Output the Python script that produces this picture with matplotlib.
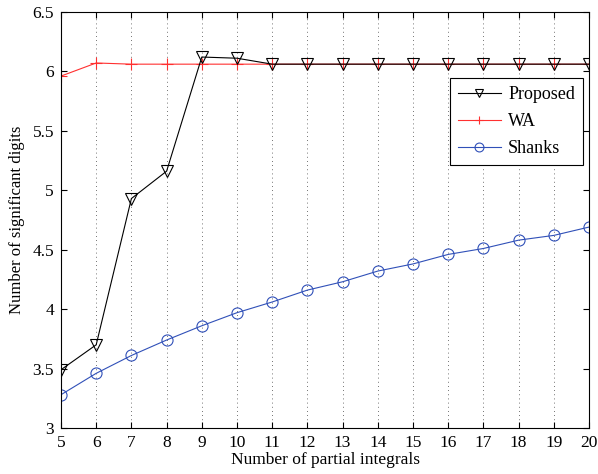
import matplotlib
matplotlib.use("Agg")
import matplotlib.pyplot as plt

plt.rcParams['font.family'] = ['Liberation Serif', 'DejaVu Serif']
plt.rcParams['mathtext.fontset'] = 'stix'

n_partial = list(range(5, 21))
proposed = [3.49, 3.70, 4.93, 5.16, 6.12, 6.11, 6.06, 6.06, 6.06, 6.06,
            6.06, 6.06, 6.06, 6.06, 6.06, 6.06]
wa = [5.96, 6.07, 6.06, 6.06, 6.06, 6.06, 6.06, 6.06, 6.06, 6.06,
      6.06, 6.06, 6.06, 6.06, 6.06, 6.06]
shanks = [3.28, 3.46, 3.61, 3.74, 3.86, 3.97, 4.06, 4.16, 4.23, 4.32,
          4.38, 4.46, 4.51, 4.58, 4.62, 4.69]

fig = plt.figure(figsize=(5.98, 4.74), dpi=100)
ax = fig.add_axes([0.102, 0.097, 0.883, 0.878])

ax.plot(n_partial, proposed, color='black', lw=0.8, marker='v', ms=8,
        mfc='none', mec='black', mew=0.8, label='Proposed', zorder=3)
ax.plot(n_partial, wa, color='#ff3030', lw=0.8, marker='+', ms=8,
        mew=0.8, label='WA', zorder=2)
ax.plot(n_partial, shanks, color='#3050b8', lw=0.8, marker='o', ms=8,
        mfc='none', mec='#3050b8', mew=0.8, label='Shanks', zorder=2)

ax.set_xlim(5, 20)
ax.set_ylim(3, 6.5)
ax.set_xticks(n_partial)
ax.set_yticks([3, 3.5, 4, 4.5, 5, 5.5, 6, 6.5])
ax.set_yticklabels(['3', '3.5', '4', '4.5', '5', '5.5', '6', '6.5'])
ax.xaxis.grid(True, linestyle=(0, (1, 4)), color='#444444', lw=0.6)
ax.tick_params(direction='in', top=True, right=True, labelsize=12.5, length=4, pad=5)
for s in ax.spines.values():
    s.set_linewidth(0.8)

ax.set_xlabel('Number of partial integrals', fontsize=12.5, labelpad=1)
ax.set_ylabel('Number of significant digits', fontsize=12, labelpad=5)

leg = ax.legend(loc='upper right', bbox_to_anchor=(0.989, 0.841), fontsize=13,
                fancybox=False, edgecolor='black', framealpha=1, borderaxespad=0,
                handlelength=2.4, handletextpad=0.4, borderpad=0.45, labelspacing=0.55,
                markerscale=0.8)
leg.get_frame().set_linewidth(0.8)

fig.savefig('out.png', dpi=100)
